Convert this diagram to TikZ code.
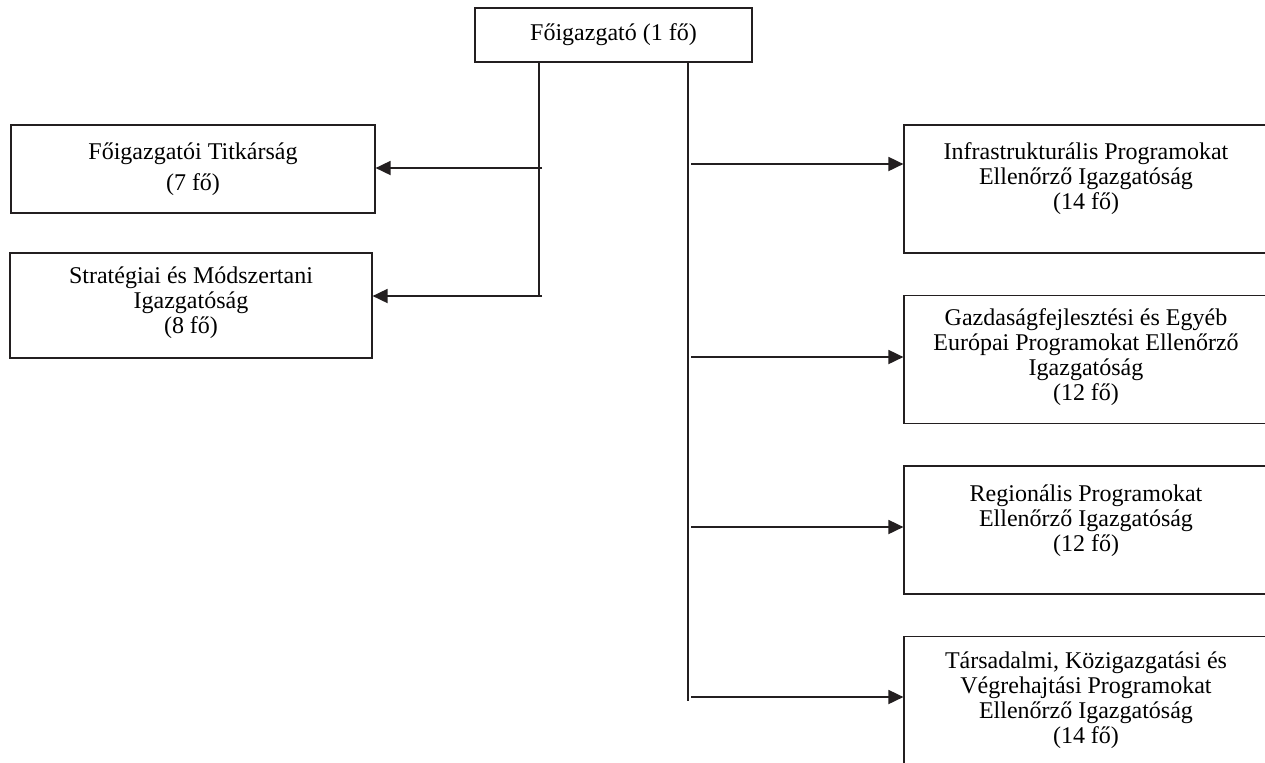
\documentclass[tikz,border=0pt]{standalone}
\usepackage{fontspec}
\setmainfont{Liberation Serif}
\usetikzlibrary{arrows.meta,positioning,calc}
\definecolor{orgink}{HTML}{231F20}
\newcommand{\lift}[1]{\rule[-#1]{0pt}{0pt}}

\begin{document}
\begin{tikzpicture}[
  x=0.5pt,y=-0.5pt,
  every node/.style={font=\fontsize{12}{12.5}\selectfont,align=center},
  unit/.style={draw=orgink,line width=0.6pt,inner sep=0pt,text=black},
  leftunit/.style={unit,minimum width=182pt},
  rightunit/.style={unit,minimum width=182pt,minimum height=64pt},
  arrow/.style={-{Triangle[length=7.5pt,width=7pt]},line width=0.9pt,color=orgink},
  spine/.style={line width=0.6pt,color=orgink}
]
\clip (0,0) rectangle (1265,762);
\node[unit,minimum width=138.5pt,minimum height=27pt] (chief) at (613.5,35) {Főigazgató (1 fő)};
\node[leftunit,minimum height=44pt] (titk) at (193,169) {Főigazgatói Titkárság\\[3pt](7 fő)};
\node[leftunit,minimum width=181pt,minimum height=52.5pt] (strat) at (191,305.5)
  {Stratégiai és Módszertani\\Igazgatóság\\(8 fő)\lift{5.5pt}};
\node[rightunit] (infra) at (1086,189)
  {Infrastrukturális Programokat\\Ellenőrző Igazgatóság\\(14 fő)\lift{13pt}};
\node[rightunit] (gazd) at (1086,359.5)
  {Gazdaságfejlesztési és Egyéb\\Európai Programokat Ellenőrző\\Igazgatóság\\(12 fő)\lift{5pt}};
\node[rightunit] (reg) at (1086,530)
  {Regionális Programokat\\Ellenőrző Igazgatóság\\(12 fő)\lift{12pt}};
\node[rightunit] (tars) at (1086,700.5)
  {Társadalmi, Közigazgatási és\\Végrehajtási Programokat\\Ellenőrző Igazgatóság\\(14 fő)};
% spines under the chief
\coordinate (lspine) at (539,297);
\coordinate (rspine) at (688,701);
\draw[spine] (lspine |- chief.south) -- (lspine);
\draw[spine] (rspine |- chief.south) -- (rspine);
% left branches
\coordinate (l1) at (542,168);
\coordinate (l2) at (542,296);
\draw[arrow] (l1) -- (l1 -| titk.east);
\draw[arrow] (l2) -- (l2 -| strat.east);
% right branches
\coordinate (r1) at (691,164);
\coordinate (r2) at (691,357);
\coordinate (r3) at (691,527);
\coordinate (r4) at (691,697);
\draw[arrow] (r1) -- (r1 -| infra.west);
\draw[arrow] (r2) -- (r2 -| gazd.west);
\draw[arrow] (r3) -- (r3 -| reg.west);
\draw[arrow] (r4) -- (r4 -| tars.west);
\end{tikzpicture}
\end{document}
